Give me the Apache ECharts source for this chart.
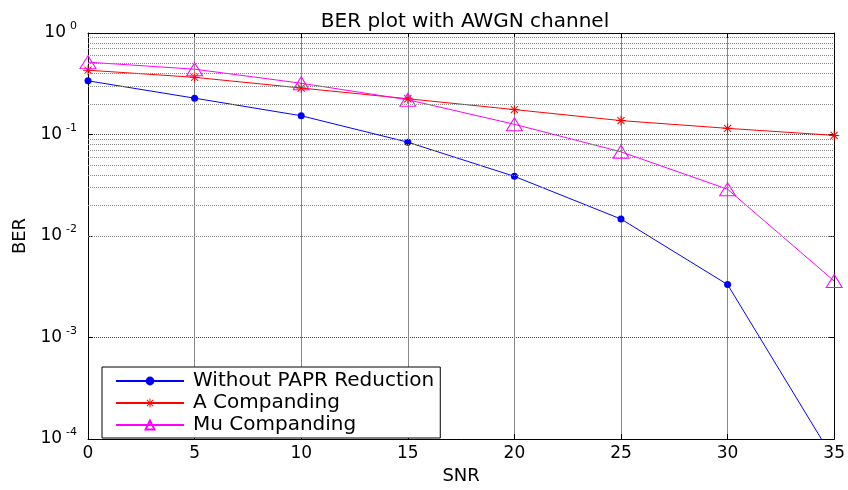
<!DOCTYPE html>
<html>
<head>
<meta charset="utf-8">
<script src="https://cdn.jsdelivr.net/npm/echarts@6/dist/echarts.min.js"></script>
<style>
    html, body { margin: 0; padding: 0; background: #fff; }
    #container { width: 848px; height: 490px; }
</style>
</head>
<body>
<div id="container"></div>
<script>
var snr = [0, 5, 10, 15, 20, 25, 30, 35];
var berNoPapr = [0.338, 0.228, 0.153, 0.084, 0.0387, 0.0147, 0.00332, 0.000062];
var berA = [0.43, 0.366, 0.287, 0.225, 0.176, 0.137, 0.115, 0.098];
var berMu = [0.516, 0.44, 0.32, 0.22, 0.126, 0.0675, 0.0289, 0.0036];
var decades = [0.0001, 0.001, 0.01, 0.1];
var minorSteps = [2, 3, 4, 5, 6, 7, 8, 9];
var seriesNames = ['Without PAPR Reduction', 'A Companding', 'Mu Companding'];

var font = 'DejaVu Sans, Liberation Sans, sans-serif';
// asterisk marker like matlab '*'
var starPath = 'path://M9 0h2v20h-2z M0 9h20v2h-20z M2.2 3.6L3.6 2.2L17.8 16.4L16.4 17.8z M16.4 2.2L17.8 3.6L3.6 17.8L2.2 16.4z';

function pairs(ys) {
    var out = [];
    for (var i = 0; i < snr.length; i++) {
        out.push([snr[i], ys[i]]);
    }
    return out;
}

var minorLines = [];
decades.forEach(function (d) {
    minorSteps.forEach(function (k) {
        minorLines.push({yAxis: k * d});
    });
});

var myChart = echarts.init(document.getElementById('container'));
var option = {
    animation: false,
    backgroundColor: '#fff',
    title: {
        text: 'BER plot with AWGN channel',
        left: 460,
        textAlign: 'center',
        top: 7,
        textStyle: {fontFamily: font, fontSize: 20, fontWeight: 'normal', color: '#000'}
    },
    grid: {
        left: 88,
        right: 12,
        top: 33,
        bottom: 44,
        show: false
    },
    legend: {
        data: seriesNames,
        orient: 'vertical',
        left: 102,
        top: 367,
        itemWidth: 68,
        itemHeight: 11,
        itemGap: 2,
        padding: [4, 6, 3, 13],
        borderColor: '#000',
        borderWidth: 1,
        backgroundColor: '#fff',
        textStyle: {fontFamily: font, fontSize: 20, color: '#000', padding: [0, 0, 0, 4]}
    },
    xAxis: [
        {
            type: 'value',
            min: 0,
            max: 35,
            interval: 5,
            name: 'SNR',
            nameLocation: 'middle',
            nameGap: 28,
            nameTextStyle: {fontFamily: font, fontSize: 18, color: '#000'},
            axisLine: {show: true, lineStyle: {color: '#000'}},
            axisTick: {show: true, inside: true, length: 5, lineStyle: {color: '#000'}},
            axisLabel: {fontFamily: font, fontSize: 17, color: '#000', margin: 6},
            splitLine: {show: true, showMinLine: false, showMaxLine: false, lineStyle: {color: '#888', width: 1}}
        },
        {
            type: 'value',
            position: 'top',
            min: 0,
            max: 35,
            interval: 5,
            axisLine: {show: true, onZero: false, lineStyle: {color: '#000'}},
            axisTick: {show: true, inside: true, length: 5, lineStyle: {color: '#000'}},
            axisLabel: {show: false},
            splitLine: {show: false}
        }
    ],
    yAxis: [
        {
            type: 'log',
            logBase: 10,
            min: 0.0001,
            max: 1,
            name: 'BER',
            nameLocation: 'middle',
            nameGap: 58,
            nameTextStyle: {fontFamily: font, fontSize: 18, color: '#000'},
            axisLine: {show: true, lineStyle: {color: '#000'}},
            axisTick: {show: true, inside: true, length: 5, lineStyle: {color: '#000'}},
            axisLabel: {
                margin: 11,
                formatter: function (v) {
                    var e = Math.round(Math.log10(v));
                    return '{b|10}{s|' + e + '}';
                },
                rich: {
                    b: {fontFamily: font, fontSize: 17, color: '#000'},
                    s: {fontFamily: font, fontSize: 11, color: '#000', padding: [0, 0, 13, 4]}
                }
            },
            splitLine: {show: true, showMinLine: false, showMaxLine: false, lineStyle: {color: '#444', type: 'dotted', width: 1}}
        },
        {
            type: 'log',
            logBase: 10,
            min: 0.0001,
            max: 1,
            position: 'right',
            axisLine: {show: true, onZero: false, lineStyle: {color: '#000'}},
            axisTick: {show: true, inside: true, length: 5, lineStyle: {color: '#000'}},
            axisLabel: {show: false},
            splitLine: {show: false}
        }
    ],
    series: [
        {
            name: 'minor grid',
            type: 'line',
            data: [],
            z: 1,
            silent: true,
            markLine: {
                silent: true,
                symbol: 'none',
                label: {show: false},
                lineStyle: {color: '#888', type: 'dotted', width: 1},
                data: minorLines
            }
        },
        {
            name: seriesNames[0],
            type: 'line',
            data: pairs(berNoPapr),
            clip: true,
            symbol: 'circle',
            symbolSize: 7,
            itemStyle: {color: '#0000ff'},
            lineStyle: {color: '#0000ff', width: 1}
        },
        {
            name: seriesNames[1],
            type: 'line',
            data: pairs(berA),
            clip: true,
            symbol: starPath,
            symbolSize: 10,
            itemStyle: {color: '#ff0000'},
            lineStyle: {color: '#ff0000', width: 1}
        },
        {
            name: seriesNames[2],
            type: 'line',
            data: pairs(berMu),
            clip: true,
            symbol: 'triangle',
            symbolSize: [16, 13],
            itemStyle: {color: 'rgba(255,255,255,0)', borderColor: '#ff00ff', borderWidth: 1},
            lineStyle: {color: '#ff00ff', width: 1}
        }
    ]
};
myChart.setOption(option);
</script>
</body>
</html>
